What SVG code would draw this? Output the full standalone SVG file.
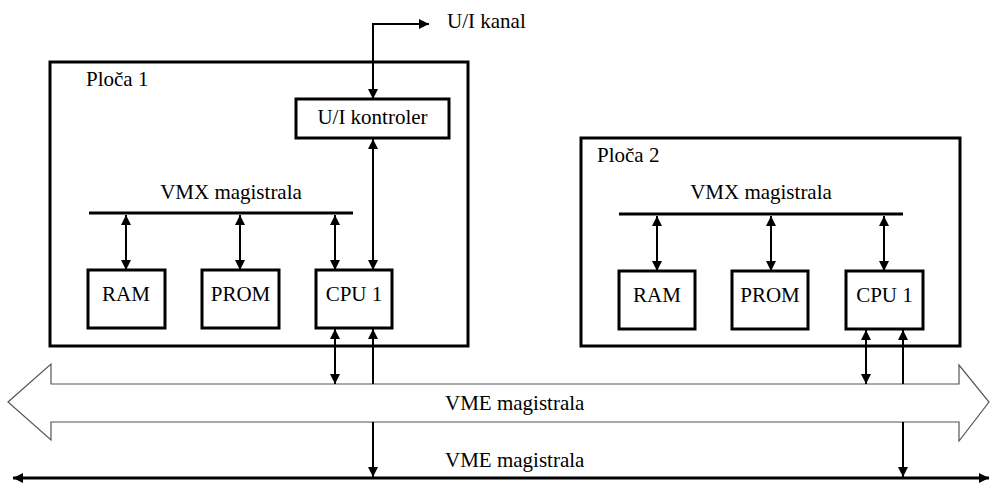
<svg xmlns="http://www.w3.org/2000/svg" width="990" height="486" viewBox="0 0 990 486" font-family="Liberation Serif, Tinos, DejaVu Serif, Noto Serif, Times New Roman, serif">
<style>
text{font-family:"Liberation Serif",Tinos,"DejaVu Serif","Noto Serif","Times New Roman",serif;font-size:21px;fill:#000}
.board{fill:#fff;stroke:#000;stroke-width:3}
.box{fill:#fff;stroke:#000;stroke-width:3}
.bus{stroke:#000;stroke-width:3;fill:none}
.ln{stroke:#000;stroke-width:2;fill:none}
.bi{marker-start:url(#ah);marker-end:url(#ah)}
.en{marker-end:url(#ah)}
.hollow{fill:#fff;stroke:#555;stroke-width:1.2}
</style>
<defs>
<marker id="ah" markerUnits="userSpaceOnUse" markerWidth="10" markerHeight="10" refX="10" refY="5" orient="auto-start-reverse" viewBox="0 0 10 10">
<path d="M0,0 L10,5 L0,10 z" fill="#000"/>
</marker>
</defs>
<rect width="990" height="486" fill="#fff"/>
<g id="vme-wide">
<polygon class="hollow" points="8,402 51,364 51,384 959,384 959,365 989,402 959,441 959,422 51,422 51,440"/>
<text x="445" y="410">VME magistrala</text>
</g>
<g id="board1">
<rect class="board" x="50" y="62" width="418" height="284"/>
<text x="86" y="86">Ploča 1</text>
<text x="231" y="199" text-anchor="middle">VMX magistrala</text>
<line class="bus" x1="89" y1="213" x2="353" y2="213"/>
</g>
<g id="uikontroler">
<rect class="box" x="296" y="99" width="153" height="39"/>
<text x="372.5" y="124" text-anchor="middle">U/I kontroler</text>
</g>
<g id="ram1"><rect class="box" x="88" y="270" width="77" height="58"/><text x="126" y="301" text-anchor="middle">RAM</text></g>
<g id="prom1"><rect class="box" x="202" y="270" width="77" height="58"/><text x="240.5" y="301" text-anchor="middle">PROM</text></g>
<g id="cpu1"><rect class="box" x="316" y="270" width="76" height="58"/><text x="354" y="301" text-anchor="middle">CPU 1</text></g>
<g id="board2">
<rect class="board" x="581" y="138" width="379" height="208"/>
<text x="597" y="162">Ploča 2</text>
<text x="761" y="199" text-anchor="middle">VMX magistrala</text>
<line class="bus" x1="619" y1="214" x2="903" y2="214"/>
</g>
<g id="ram2"><rect class="box" x="619" y="271" width="76" height="58"/><text x="657" y="302" text-anchor="middle">RAM</text></g>
<g id="prom2"><rect class="box" x="732" y="271" width="76" height="58"/><text x="770" y="302" text-anchor="middle">PROM</text></g>
<g id="cpu2"><rect class="box" x="846" y="271" width="77" height="58"/><text x="884.5" y="302" text-anchor="middle">CPU 1</text></g>
<g id="vme-line">
<line class="bus" x1="13" y1="478" x2="989" y2="478" style="marker-start:url(#ah);marker-end:url(#ah)"/>
<text x="445" y="467">VME magistrala</text>
</g>
<g id="uikanal">
<text x="447" y="28">U/I kanal</text>
</g>
<g id="connectors">
<path class="ln bi" d="M373,99 L373,24 L429,24"/>
<line class="ln bi" x1="373" y1="139" x2="373" y2="270"/>
<line class="ln bi" x1="126" y1="215" x2="126" y2="270"/>
<line class="ln bi" x1="240" y1="215" x2="240" y2="270"/>
<line class="ln bi" x1="335" y1="215" x2="335" y2="270"/>
<line class="ln bi" x1="335" y1="329" x2="335" y2="384"/>
<line class="ln en" x1="373" y1="384" x2="373" y2="329"/>
<line class="ln en" x1="373" y1="422" x2="373" y2="477"/>
<line class="ln bi" x1="657" y1="216" x2="657" y2="271"/>
<line class="ln bi" x1="771" y1="216" x2="771" y2="271"/>
<line class="ln bi" x1="884" y1="216" x2="884" y2="271"/>
<line class="ln bi" x1="866" y1="330" x2="866" y2="384"/>
<line class="ln en" x1="903" y1="384" x2="903" y2="330"/>
<line class="ln en" x1="903" y1="422" x2="903" y2="477"/>
</g>
</svg>
